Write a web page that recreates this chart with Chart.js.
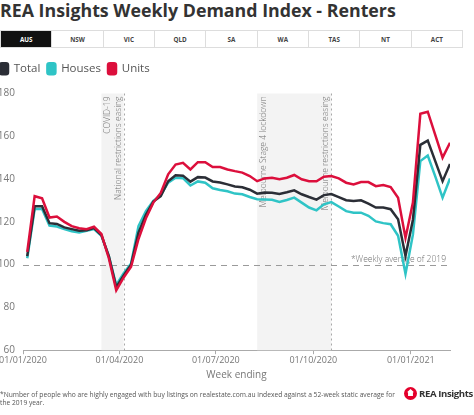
<!DOCTYPE html>
<html><head><meta charset="utf-8">
<script src="https://cdn.jsdelivr.net/npm/chart.js@4.4.0/dist/chart.umd.min.js"></script>
<style>
html,body{margin:0;padding:0;background:#fff;width:474px;height:415px;overflow:hidden;font-family:"Open Sans",sans-serif;}
#title{position:absolute;left:0;top:-2px;font-weight:700;font-size:17.8px;color:#333;white-space:nowrap;}
#tabs{position:absolute;left:0;top:30px;width:463px;height:18px;display:flex;border:1px solid #ddd;box-sizing:border-box;}
.tab{flex:1;display:flex;align-items:center;justify-content:center;font-size:6.3px;font-weight:700;color:#444;border-left:1px solid #ddd;}
.tab.on{border-left:none;background:#111;color:#fff;}
#wrap{position:absolute;left:-7px;top:0;width:481px;height:415px;}
#note{position:absolute;left:0;top:391px;font-size:6.7px;color:#555;line-height:8px;white-space:nowrap;}
#logo{position:absolute;left:404px;top:386px;height:14px;display:flex;align-items:center;white-space:nowrap;}
#logo .c{width:13px;height:13px;border-radius:50%;background:#e4002b;position:relative;margin-right:2px;flex:none;}
#logo .h{position:absolute;left:3px;top:2.5px;width:7px;height:7px;background:#fff;clip-path:polygon(50% 0,100% 45%,85% 45%,85% 100%,15% 100%,15% 45%,0 45%);}
#logo .t{font-size:9.6px;font-weight:700;color:#333;letter-spacing:-0.4px;}
</style></head>
<body>
<div id="title">REA Insights Weekly Demand Index - Renters</div>
<div id="tabs"></div>
<div id="wrap"><canvas id="c" width="481" height="415"></canvas></div>
<div id="note">*Number of people who are highly engaged with buy listings on realestate.com.au indexed against a 52-week static average for<br>the 2019 year.</div>
<div id="logo"><div class="c"><div class="h"></div></div><div class="t">REA Insights</div></div>
<script>
const tabLabels = ['AUS','NSW','VIC','QLD','SA','WA','TAS','NT','ACT'];
const weekEnding = [
 '2020-01-05','2020-01-12','2020-01-19','2020-01-26','2020-02-02','2020-02-09','2020-02-16','2020-02-23',
 '2020-03-01','2020-03-08','2020-03-15','2020-03-22','2020-03-29','2020-04-05','2020-04-12','2020-04-19','2020-04-26',
 '2020-05-03','2020-05-10','2020-05-17','2020-05-24','2020-05-31','2020-06-07','2020-06-14','2020-06-21','2020-06-28',
 '2020-07-05','2020-07-12','2020-07-19','2020-07-26','2020-08-02','2020-08-09','2020-08-16','2020-08-23','2020-08-30',
 '2020-09-06','2020-09-13','2020-09-20','2020-09-27','2020-10-04','2020-10-11','2020-10-18','2020-10-25',
 '2020-11-01','2020-11-08','2020-11-15','2020-11-22','2020-11-29','2020-12-06','2020-12-13','2020-12-20','2020-12-27',
 '2021-01-03','2021-01-10','2021-01-17','2021-01-24','2021-01-31','2021-02-07'];
const totalIndex = [104,127.3,127.3,119.4,119,117.4,116.6,115.8,116.1,117.1,113.8,104,89.5,95,100,115,123.3,
 129.5,132,139,141.8,141.6,138.8,140.9,140.7,138.9,138.4,137.5,136.5,136.2,135,133.2,133.7,133.6,133,
 133.8,134.7,132.9,131.6,130.4,132.5,133,131.6,130.1,129.8,130.1,128.5,126.7,126.7,125.9,121.2,104,
 121,156,158,148.5,139,147.1];
const housesIndex = [103,126,126,118.3,117.8,116.6,115.6,115,115.8,116.6,113.5,104,90.5,96,100.5,118,125,
 129.8,132.5,138.3,140.6,140.4,137,138.9,138.3,135.7,134.9,134.3,133.2,132.9,131.6,130.6,130.5,130.3,129.3,
 130.2,131.3,129,126.7,125.4,128.2,129.2,127.2,125,124.3,124.3,122.8,120.2,119.4,118.9,113.5,95.7,
 114,148.4,151,141.4,131.3,140.3];
const unitsIndex = [106,132,131,122,122.5,120,118,117,116.6,117.7,114.3,103,88,94,99,112,121.7,
 129,133.5,142.2,146.8,147.6,144.5,147.9,147.9,145.6,145.6,144.5,143.7,143,141.4,139,140.3,140.6,139.9,
 140.6,141.9,139.9,139,139,141.1,141.4,140.3,138.3,137.5,138.6,138.6,136.7,137.2,136.3,131.3,112.5,
 129,170.5,171.5,160.8,150,157];
const tickDates = ['2020-01-01','2020-04-01','2020-07-01','2020-10-01','2021-01-01'];
const tickLabels = ['01/01/2020','01/04/2020','01/07/2020','01/10/2020','01/01/2021'];
const yTicks = [60,80,100,120,140,160,180];
const bandStart = ['2020-03-15','2020-08-09'];
const bandEnd = ['2020-04-05','2020-10-18'];
const bandStartNotes = ['COVID-19','Melbourne Stage 4 lockdown'];
const bandEndNotes = ['National restrictions easing','Melbourne restrictions easing'];
const baselineValue = [100];
const baselineNote = ['*Weekly average of 2019'];

const tabsEl = document.getElementById('tabs');
tabLabels.forEach((t,i)=>{const d=document.createElement('div');d.className='tab'+(i===0?' on':'');d.textContent=t;tabsEl.appendChild(d);});

const dayOf = s => (Date.UTC(+s.slice(0,4), +s.slice(5,7)-1, +s.slice(8,10)) - Date.UTC(2020,0,1))/86400000;
const xs = weekEnding.map(dayOf);
const tickDays = tickDates.map(dayOf);
const pts = arr => arr.map((v,i)=>({x:xs[i], y:v}));
const FONT = '"Open Sans", sans-serif';

const legendGap = {
  id:'legendGap',
  beforeLayout(chart){
    const lg = chart.legend;
    if (lg && !lg._gapPatched){
      const orig = lg.fit;
      lg.fit = function(){ orig.apply(this, arguments); this.height += 9; };
      lg._gapPatched = true;
    }
  }
};

const notes = {
  id:'notes',
  beforeDatasetsDraw(chart){
    const {ctx, chartArea:{top,bottom,left,right}, scales:{x,y}} = chart;
    ctx.save();
    bandStart.forEach((s,i)=>{
      const x0 = x.getPixelForValue(dayOf(s)), x1 = x.getPixelForValue(dayOf(bandEnd[i]));
      ctx.fillStyle = '#f3f3f3';
      ctx.fillRect(x0, top, x1-x0, bottom-top);
      ctx.strokeStyle = '#a8a8a8'; ctx.lineWidth = 1; ctx.setLineDash([2,3]);
      ctx.beginPath(); ctx.moveTo(Math.round(x1)+0.5, top); ctx.lineTo(Math.round(x1)+0.5, bottom); ctx.stroke();
      ctx.setLineDash([]);
      ctx.fillStyle = '#707070'; ctx.font = '300 8.5px ' + FONT;
      ctx.textAlign = 'right'; ctx.textBaseline = 'middle';
      const draw = (txt, cx) => { ctx.save(); ctx.translate(cx, top+3); ctx.rotate(-Math.PI/2); ctx.fillText(txt, 0, 0); ctx.restore(); };
      draw(bandStartNotes[i], x0 + 6);
      draw(bandEndNotes[i], x1 - 5.5);
    });
    baselineValue.forEach((v,i)=>{
      const yy = Math.round(y.getPixelForValue(v))+0.5;
      ctx.strokeStyle = '#9a9a9a'; ctx.lineWidth = 1; ctx.setLineDash([6,5]);
      ctx.beginPath(); ctx.moveTo(left, yy); ctx.lineTo(right, yy); ctx.stroke();
      ctx.setLineDash([]);
      ctx.fillStyle = '#707070'; ctx.font = '300 8.5px ' + FONT;
      ctx.textAlign = 'right'; ctx.textBaseline = 'bottom';
      ctx.fillText(baselineNote[i], right - 4, yy - 2);
    });
    ctx.restore();
  }
};

new Chart(document.getElementById('c'), {
  type:'line',
  data:{datasets:[
    {label:'Total', data:pts(totalIndex), borderColor:'#2b2e36', backgroundColor:'#2b2e36', order:1},
    {label:'Houses', data:pts(housesIndex), borderColor:'#2fc4c6', backgroundColor:'#2fc4c6', order:2},
    {label:'Units', data:pts(unitsIndex), borderColor:'#dc0f3c', backgroundColor:'#dc0f3c', order:0}
  ]},
  options:{
    responsive:false, animation:false,
    elements:{line:{borderWidth:2.5, tension:0, fill:false}, point:{radius:0}},
    layout:{padding:{top:56, right:24, bottom:34, left:0}},
    plugins:{
      legend:{position:'top', align:'start',
        labels:{sort:(a,b)=>a.datasetIndex-b.datasetIndex, boxWidth:8, boxHeight:11, useBorderRadius:true, borderRadius:2,
          color:'#555', font:{family:FONT, size:11.5}, padding:7}},
      tooltip:{enabled:false}
    },
    scales:{
      x:{type:'linear', min:0, max:403,
        afterBuildTicks:s=>{s.ticks = tickDays.map(v=>({value:v}));},
        ticks:{autoSkip:false, maxRotation:0, color:'#777', font:{family:FONT, size:9}, padding:1,
          callback:v=>tickLabels[tickDays.indexOf(v)]},
        grid:{drawOnChartArea:false, drawTicks:true, tickLength:4, color:'#aaa'},
        border:{color:'#aaa'},
        title:{display:true, text:'Week ending', color:'#777', font:{family:FONT, size:10}, padding:{top:2,bottom:0}}
      },
      y:{min:60, max:180,
        afterBuildTicks:s=>{s.ticks = yTicks.map(v=>({value:v}));},
        afterFit:s=>{s.width = 30;},
        ticks:{color:'#777', font:{family:FONT, size:10}, padding:8},
        grid:{display:false, drawTicks:false}, border:{display:false}
      }
    }
  },
  plugins:[notes, legendGap]
});
</script>
</body></html>
